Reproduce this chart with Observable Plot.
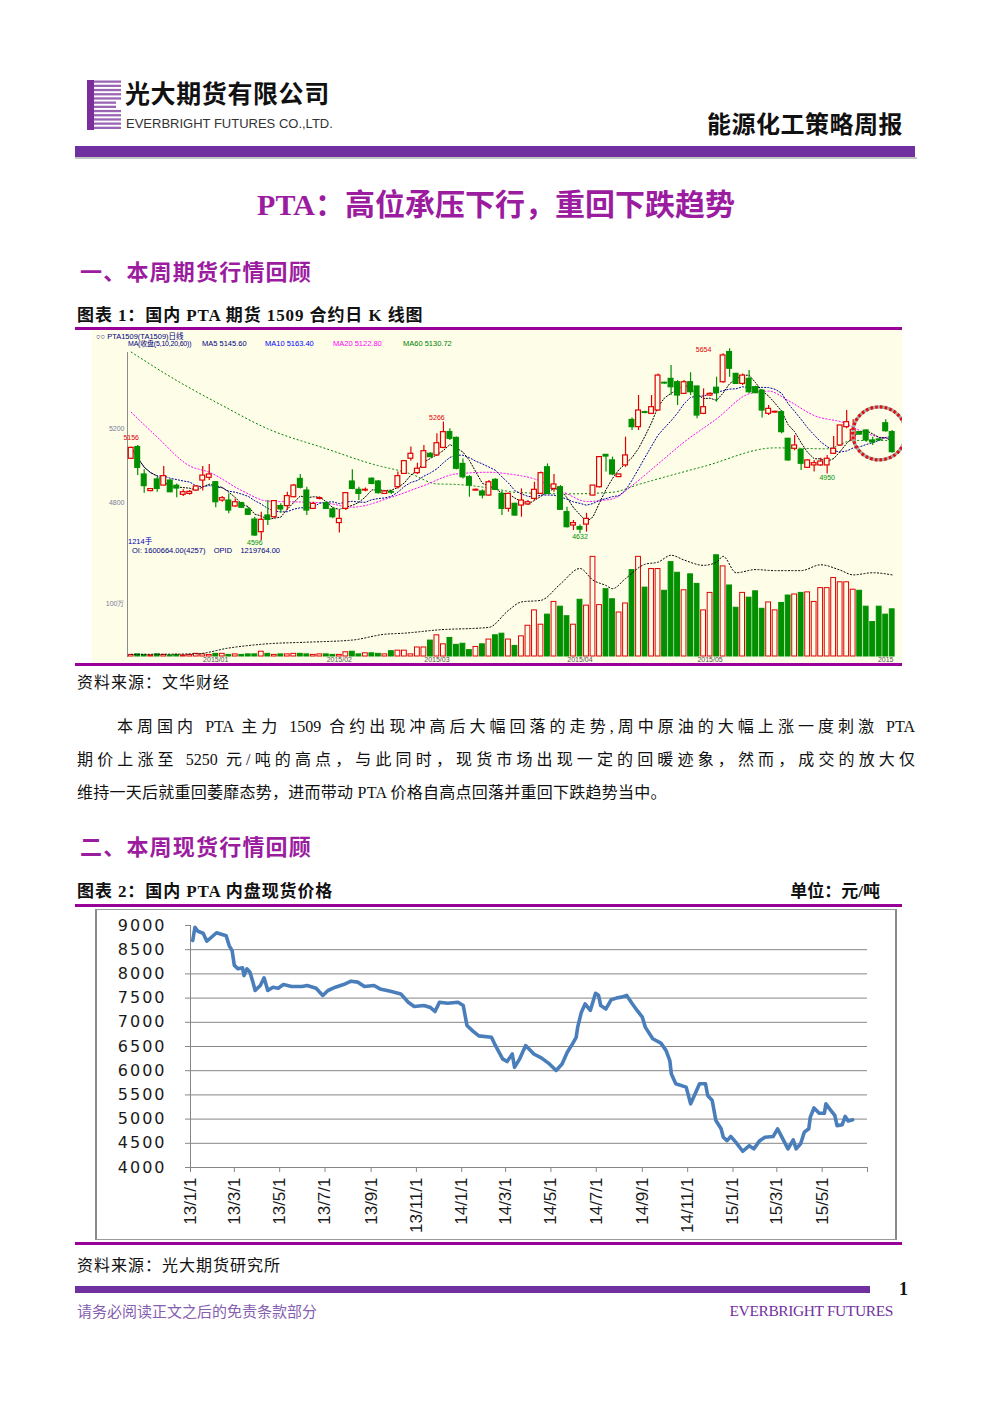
<!DOCTYPE html>
<html><head><meta charset="utf-8">
<script src="https://cdn.jsdelivr.net/npm/d3@7"></script>
<script src="https://cdn.jsdelivr.net/npm/@observablehq/plot@0.6"></script>
<style>
html,body{margin:0;padding:0;background:#fff;}
#page{position:relative;width:992px;height:1403px;overflow:hidden;background:#fff;font-family:"Noto Sans CJK SC",sans-serif;color:#111;}
.t{position:absolute;white-space:nowrap;line-height:1;}
.bar{position:absolute;}
.cj{font-family:"Liberation Serif","Noto Sans CJK SC",serif;}
.tiny{position:absolute;white-space:nowrap;line-height:1;font-family:"Liberation Sans","Noto Sans CJK SC",sans-serif;font-size:7.5px;}
#kwrap{position:absolute;left:92px;top:330px;width:810px;height:333px;background:#fdfde8;overflow:hidden;}
#kprice{position:absolute;left:0;top:0;}
#kvol{position:absolute;left:0;top:218px;}
#spotbox{position:absolute;left:95px;top:909px;width:798px;height:329px;border:1px solid #9a9a9a;border-left:2px solid #8a8a8a;border-right:2px solid #8a8a8a;}
#spot{position:absolute;left:96px;top:911px;}
.spot g[aria-label="y-axis tick label"]{letter-spacing:2px;}
.para{position:absolute;white-space:nowrap;font-size:16px;line-height:1;font-family:"Liberation Serif","Noto Sans CJK SC",serif;}
.just{text-align:justify;text-align-last:justify;white-space:normal;}
</style></head>
<body><div id="page">

<svg id="logo" style="position:absolute;left:84px;top:78px" width="40" height="56"></svg>
<div class="t" style="left:125px;top:80px;font-size:25px;font-weight:700;letter-spacing:0.6px;">光大期货有限公司</div>
<div class="t" style="left:126px;top:117px;font-size:13px;font-family:'Liberation Sans',sans-serif;color:#333;">EVERBRIGHT FUTURES CO.,LTD.</div>
<div class="t" style="right:89px;top:111px;font-size:24px;font-weight:700;letter-spacing:0.5px;">能源化工策略周报</div>
<div class="bar" style="left:75px;top:146px;width:840px;height:11px;background:#7030a0;"></div>
<div class="bar" style="left:75px;top:157px;width:842px;height:2px;background:#c4c4c4;"></div>

<div class="t cj" style="left:0;width:992px;text-align:center;top:190px;font-size:30px;font-weight:700;color:#9b1c9f;">PTA：高位承压下行，重回下跌趋势</div>
<div class="t" style="left:80px;top:259px;font-size:22px;font-weight:700;color:#9b1c9f;letter-spacing:1.2px;">一、本周期货行情回顾</div>
<div class="t cj" style="left:77px;top:307px;font-size:17px;font-weight:700;letter-spacing:0.9px;">图表 1：国内 PTA 期货 1509 合约日 K 线图</div>
<div class="bar" style="left:75px;top:327px;width:827px;height:3px;background:#990099;"></div>

<div id="kwrap">
  <div id="kprice"></div>
  <div id="kvol"></div>
  <div class="tiny" style="left:4px;top:3px;color:#00007f;">○○ PTA1509(TA1509)日线</div>
  <div class="tiny" style="left:36px;top:10px;color:#00007f;font-size:7px;letter-spacing:-0.2px;">MA(收盘(5,10,20,60))</div>
  <div class="tiny" style="left:110px;top:10px;color:#00007f;">MA5 5145.60</div>
  <div class="tiny" style="left:173px;top:10px;color:#0000ff;">MA10 5163.40</div>
  <div class="tiny" style="left:241px;top:10px;color:#ff00ff;">MA20 5122.80</div>
  <div class="tiny" style="left:311px;top:10px;color:#008000;">MA60 5130.72</div>
  <div class="tiny" style="left:36px;top:208px;color:#0000c0;">1214手</div>
  <div class="tiny" style="left:40px;top:217px;color:#00007f;">OI: 1600664.00(4257)&nbsp;&nbsp;&nbsp;&nbsp;OPID&nbsp;&nbsp;&nbsp;&nbsp;1219764.00</div>
</div>
<div class="bar" style="left:75px;top:663px;width:827px;height:3px;background:#990099;"></div>
<div class="t" style="left:77px;top:673px;font-size:16px;letter-spacing:1px;">资料来源：文华财经</div>

<div class="para just" style="left:117px;top:719px;width:798px;">本周国内 PTA 主力 1509 合约出现冲高后大幅回落的走势,周中原油的大幅上涨一度刺激 PTA</div>
<div class="para just" style="left:77px;top:752px;width:838px;">期价上涨至 5250 元/吨的高点，与此同时，现货市场出现一定的回暖迹象，然而，成交的放大仅</div>
<div class="para" style="left:77px;top:785px;letter-spacing:0.25px;">维持一天后就重回萎靡态势，进而带动 PTA 价格自高点回落并重回下跌趋势当中。</div>

<div class="t" style="left:80px;top:834px;font-size:22px;font-weight:700;color:#9b1c9f;letter-spacing:1.2px;">二、本周现货行情回顾</div>
<div class="t cj" style="left:77px;top:883px;font-size:17px;font-weight:700;letter-spacing:0.9px;">图表 2：国内 PTA 内盘现货价格</div>
<div class="t cj" style="right:112px;top:883px;font-size:17px;font-weight:700;">单位：元/吨</div>
<div class="bar" style="left:75px;top:904px;width:827px;height:3px;background:#990099;"></div>
<div id="spotbox"></div>
<div id="spot"></div>
<div class="bar" style="left:75px;top:1242px;width:827px;height:3px;background:#990099;"></div>
<div class="t" style="left:77px;top:1256px;font-size:16px;letter-spacing:1px;">资料来源：光大期货研究所</div>

<div class="bar" style="left:75px;top:1286px;width:795px;height:7px;background:#7030a0;"></div>
<div class="t" style="left:899px;top:1280px;font-size:18px;font-weight:700;font-family:'Liberation Serif',serif;">1</div>
<div class="t" style="left:77px;top:1303px;font-size:15px;color:#8660b0;">请务必阅读正文之后的免责条款部分</div>
<div class="t" style="right:99px;top:1303px;font-size:15.5px;color:#7030a0;font-family:'Liberation Serif',serif;letter-spacing:-0.4px;">EVERBRIGHT FUTURES</div>

</div>
<script>
// ===================== Chart 1: PTA1509 daily candles =====================
const candleOpen = [
5038,5101,4953,4863,4926,4893,4920,4892,4843,4848,
4866,4920,4935,4911,4812,4812,4780,4798,4764,4709,
4641,4731,4722,4782,4782,4830,4929,4866,4767,4821,
4798,4764,4690,4767,4915,4870,4866,4930,4915,4848,
4858,4884,4956,5038,4960,4989,5065,5056,5097,5182,
5151,5010,4938,4866,4861,4839,4924,4848,4767,4794,
4785,4791,4821,4848,4992,4875,4884,4749,4677,4668,
4682,4839,4884,5059,5029,4939,5002,5248,5209,5290,
5281,5299,5449,5470,5452,5389,5452,5429,5281,5380,
5422,5452,5615,5497,5443,5470,5425,5407,5281,5288,
5290,5146,5092,5086,4989,5002,5002,5002,5065,5110,
5209,5137,5182,5191,5137,5142,5230,5182];
const candleClose = [
5097,4989,4890,4874,4875,4944,4857,4877,4857,4859,
4888,4947,4953,4803,4825,4758,4803,4773,4735,4623,
4708,4708,4809,4764,4836,4893,4881,4758,4794,4825,
4767,4722,4713,4852,4875,4848,4870,4902,4852,4861,
4855,4944,5025,5065,4984,5079,5047,5122,5182,5146,
4984,4938,4893,4870,4839,4911,4870,4767,4848,4731,
4812,4803,4870,4960,4848,4899,4762,4668,4690,4655,
4713,4893,5047,5050,4953,4953,5056,5209,5299,5286,
5317,5488,5445,5425,5380,5452,5398,5272,5317,5389,
5393,5597,5525,5443,5488,5398,5393,5299,5308,5292,
5182,5029,5110,5011,5029,5014,5023,5038,5092,5218,
5236,5194,5169,5137,5126,5139,5187,5074];
const candleHigh = [
5100,5110,4978,4877,4938,4996,4924,4902,4870,4866,
4893,4996,5007,4915,4834,4848,4821,4803,4776,4722,
4749,4812,4812,4794,4857,4899,4953,4884,4803,4830,
4803,4776,4758,4854,4978,4884,4880,4934,4920,4866,
4866,4966,5029,5101,5014,5110,5070,5173,5236,5200,
5155,5037,4947,4875,4870,4920,4930,4862,4852,4798,
4875,4812,4911,4966,5010,4953,4893,4776,4704,4680,
4743,4893,5050,5061,5047,4956,5155,5259,5380,5295,
5380,5497,5452,5543,5461,5461,5503,5429,5416,5395,
5479,5606,5633,5501,5497,5515,5430,5410,5326,5295,
5299,5146,5164,5092,5032,5029,5041,5056,5158,5218,
5299,5249,5185,5194,5155,5146,5249,5191];
const candleLow = [
5035,4948,4852,4859,4857,4893,4854,4827,4834,4840,
4863,4863,4920,4773,4803,4740,4776,4769,4731,4618,
4596,4677,4713,4743,4758,4827,4875,4731,4763,4815,
4763,4713,4636,4758,4870,4812,4860,4898,4848,4845,
4845,4875,4953,5025,4953,4989,5043,5050,5092,5137,
4978,4929,4830,4862,4821,4836,4866,4731,4749,4727,
4722,4785,4812,4845,4845,4857,4758,4664,4650,4632,
4641,4836,4880,4966,4947,4935,4992,5191,5191,5282,
5277,5295,5441,5380,5326,5386,5380,5254,5277,5375,
5344,5447,5479,5440,5434,5389,5390,5259,5272,5286,
5173,5025,5082,4974,4985,4966,4996,4956,5061,5104,
5200,5128,5165,5128,5110,5136,5182,5068];
// volume (万手)
const volume = [
3,4,3,2,4,3,2,3,2,3,
5,4,3,5,5,3,4,3,4,4,
9,5,3,4,4,5,5,4,3,4,
4,3,3,8,9,4,6,6,5,4,
10,11,11,4,17,17,30,40,23,35,
22,24,12,18,23,32,40,43,32,20,
38,58,87,60,79,103,94,76,60,107,
96,188,97,127,108,83,100,163,188,130,
165,165,124,178,158,125,155,137,87,120,
191,170,134,92,120,111,123,90,102,87,
101,115,117,120,121,103,129,129,148,140,
140,126,124,94,65,94,79,89];
// open interest samples (trading-day number, value in volume units)
const oiDay = [0,10,15,21,27,34,39,42,47,55,58,60,63,66,69,71,73,74,76,79,81,83,85,88,90,91,93,96,99,103,106,109,111,114,117];
const oiValue = [4,5,16,24,27,31,42,44,50,55,87,103,106,137,166,144,134,128,147,174,178,191,182,172,178,189,158,164,162,162,173,163,154,158,154];
// MA20 / MA60 (they carry history from before the window)
const ma20Day = [0,4,9,12,17,21,27,30,34,40,45,50,55,58,62,67,70,74,77,81,85,90,95,98,101,105,110,112,115,117];
const ma20Value = [5290,5155,4999,4965,4866,4809,4803,4798,4776,4830,4893,4956,4965,4956,4929,4848,4807,4821,4893,5010,5128,5254,5389,5404,5353,5272,5227,5191,5155,5146];
const ma60Day = [0,7,14,21,30,37,43,47,50,56,59,67,74,78,88,99,107,111,117];
const ma60Value = [5615,5461,5326,5200,5092,5010,4956,4902,4899,4875,4857,4848,4857,4899,4996,5097,5092,5137,5137];
// price labels on chart
const markDay = [0,47,19,69,88,107];
const markPrice = [5150,5260,4582,4614,5627,4938];
const markText = ["5156","5266","4596","4632","5654","4950"];
const markUp = [true,true,false,false,true,false];
const priceTicks = [4800,5200];
const volTicks = [100];
const monthDay = [13,32,47,69,89,116];
const monthLabel = ["2015/01","2015/02","2015/03","2015/04","2015/05","2015"];
const circleDay = [115];
const circlePrice = [5175];

// ===================== Chart 2: PTA spot price =====================
const spotDates = ["2013-01-04","2013-01-07","2013-01-11","2013-01-18","2013-01-23","2013-02-05","2013-02-18","2013-02-22","2013-02-26","2013-03-01",
"2013-03-06","2013-03-12","2013-03-14","2013-03-18","2013-03-22","2013-03-26","2013-03-29","2013-04-05","2013-04-10","2013-04-15",
"2013-04-22","2013-04-29","2013-05-06","2013-05-17","2013-05-31","2013-06-07","2013-06-19","2013-06-28","2013-07-05","2013-07-15",
"2013-07-26","2013-08-05","2013-08-14","2013-08-23","2013-09-05","2013-09-13","2013-09-27","2013-10-11","2013-10-21","2013-10-29",
"2013-11-11","2013-11-20","2013-11-26","2013-12-02","2013-12-13","2013-12-27","2014-01-03","2014-01-08","2014-01-16","2014-01-24",
"2014-02-10","2014-02-14","2014-02-25","2014-03-03","2014-03-10","2014-03-13","2014-03-20","2014-03-28","2014-04-08","2014-04-18",
"2014-04-29","2014-05-08","2014-05-16","2014-05-23","2014-05-30","2014-06-04","2014-06-06","2014-06-11","2014-06-16","2014-06-23",
"2014-06-30","2014-07-04","2014-07-07","2014-07-14","2014-07-21","2014-07-28","2014-08-04","2014-08-11","2014-08-18","2014-08-25",
"2014-09-01","2014-09-05","2014-09-15","2014-09-26","2014-10-03","2014-10-08","2014-10-10","2014-10-16","2014-10-30","2014-11-05",
"2014-11-12","2014-11-17","2014-11-25","2014-11-28","2014-12-04","2014-12-09","2014-12-16","2014-12-19","2014-12-24","2014-12-29",
"2015-01-05","2015-01-14","2015-01-23","2015-01-29","2015-02-06","2015-02-13","2015-02-24","2015-03-02","2015-03-09","2015-03-16",
"2015-03-23","2015-03-27","2015-04-02","2015-04-07","2015-04-13","2015-04-15","2015-04-20","2015-04-27","2015-05-04","2015-05-06",
"2015-05-11","2015-05-18","2015-05-21","2015-05-28","2015-06-01","2015-06-05","2015-06-11"];
const spotPrices = [8690,8965,8880,8840,8675,8850,8790,8585,8480,8175,
8105,8125,7965,8105,8035,7830,7657,7760,7920,7657,
7725,7705,7780,7740,7740,7760,7705,7555,7657,7725,
7780,7850,7830,7740,7760,7690,7640,7587,7415,7325,
7347,7305,7223,7415,7395,7415,7347,6935,6817,6720,
6690,6560,6245,6190,6345,6070,6245,6520,6345,6265,
6140,6005,6140,6380,6555,6690,6900,7210,7380,7245,
7600,7560,7347,7277,7465,7500,7520,7555,7395,7245,
7105,6900,6660,6570,6415,6210,5935,5730,5660,5315,
5555,5730,5730,5488,5385,4970,4800,4625,4555,4640,
4520,4335,4450,4385,4555,4625,4640,4800,4590,4385,
4570,4385,4490,4730,4800,5040,5230,5120,5120,5315,
5210,5075,4865,4885,5055,4960,4985];
const spotYTicks = [4000,4500,5000,5500,6000,6500,7000,7500,8000,8500,9000];
const spotGridTicks = [4500,5000,5500,6000,6500,7000,7500,8000,8500];
const spotXTicks = ["2013-01-01","2013-03-01","2013-05-01","2013-07-01","2013-09-01","2013-11-01","2014-01-01","2014-03-01","2014-05-01","2014-07-01","2014-09-01","2014-11-01","2015-01-01","2015-03-01","2015-05-01","2015-07-01"];
const spotXLabels = ["13/1/1","13/3/1","13/5/1","13/7/1","13/9/1","13/11/1","14/1/1","14/3/1","14/5/1","14/7/1","14/9/1","14/11/1","15/1/1","15/3/1","15/5/1",""];
const spotDomain = ["2013-01-01","2015-07-01"];

// ---------- logo (decoration) ----------
(function(){
  const s = d3.select("#logo");
  s.append("rect").attr("x",3).attr("y",2).attr("width",7).attr("height",50).attr("fill","#7b2d9b");
  for (let k = 0; k < 12; k++) {
    const mid = k >= 5 && k <= 6;
    s.append("rect").attr("x",10).attr("y",2.5 + k*4.2).attr("width", mid ? 22 : 27).attr("height",2.3)
      .attr("fill", "#8a4aa8").attr("opacity", 0.85);
  }
})();

// ---------- Chart 1 ----------
const RED = "#e00000", GREEN = "#009000", BG = "#fdfde8";
const candles = candleOpen.map((o, i) => {
  const c = candleClose[i];
  let lo = Math.min(o, c), hi = Math.max(o, c);
  if (hi - lo < 4) { const m = (hi + lo) / 2; lo = m - 2; hi = m + 2; }
  return {i, open: o, close: c, high: candleHigh[i], low: candleLow[i], up: c >= o, b1: lo, b2: hi, vol: volume[i]};
});
function movingAvg(vals, k) { return vals.map((_, i) => ({i, v: d3.mean(vals.slice(Math.max(0, i - k + 1), i + 1))})); }
const ma5 = movingAvg(candleClose, 5);
const ma10 = movingAvg(candleClose, 10);
const ma20 = ma20Day.map((d, j) => ({i: d, v: ma20Value[j]}));
const ma60 = ma60Day.map((d, j) => ({i: d, v: ma60Value[j]}));
const marks = markDay.map((d, j) => ({i: d, p: markPrice[j], t: markText[j], c: markUp[j] ? RED : GREEN}));
const circ = circleDay.map((d, j) => ({i: d, p: circlePrice[j]}));
const oi = oiDay.map((d, j) => ({i: d, v: oiValue[j]}));
const months = monthDay.map((d, j) => ({i: d, label: monthLabel[j]}));

const xOpt = {domain: [0, 117], range: [38.7, 799.7], axis: null};
const priceChart = Plot.plot({
  width: 810, height: 218,
  marginLeft: 35, marginRight: 10, marginTop: 22, marginBottom: 0,
  style: {background: "transparent", overflow: "visible"},
  x: xOpt,
  y: {domain: [4552.6, 5731.8], range: [218, 0]},
  color: {type: "identity"},
  marks: [
    Plot.frame({anchor: "left", stroke: "#8c8c8c"}),
    Plot.axisY(priceTicks, {anchor: "left", label: null, tickSize: 0, tickPadding: 3, fontSize: 7, fill: "#7a7a9a", tickFormat: d => String(d), fontFamily: "Liberation Sans"}),
    Plot.line(ma60, {x: "i", y: "v", stroke: "#008000", strokeWidth: 1, strokeDasharray: "1.2,2.8", curve: "monotone-x"}),
    Plot.line(ma20, {x: "i", y: "v", stroke: "#ff00ff", strokeWidth: 1, strokeDasharray: "1.2,2.2", curve: "monotone-x"}),
    Plot.line(ma10, {x: "i", y: "v", stroke: "#0000a0", strokeWidth: 1, strokeDasharray: "1.2,2"}),
    Plot.line(ma5, {x: "i", y: "v", stroke: "#000", strokeWidth: 1, strokeDasharray: "1.2,1.8"}),
    Plot.ruleX(candles, {x: "i", y1: "low", y2: "high", stroke: d => d.up ? RED : GREEN, strokeWidth: 1.2}),
    Plot.rect(candles, {x1: d => d.i - 0.37, x2: d => d.i + 0.37, y1: "b1", y2: "b2",
      fill: d => d.up ? BG : GREEN, stroke: d => d.up ? RED : GREEN, strokeWidth: 1.2}),
    Plot.text(marks, {x: "i", y: "p", text: "t", fill: "c", fontSize: 7, fontFamily: "Liberation Sans"}),
    Plot.dot(circ, {x: "i", y: "p", r: 26.5, stroke: "#a8a8a8", strokeWidth: 3.2, fill: "none"}),
    Plot.dot(circ, {x: "i", y: "p", r: 26.5, stroke: "#e01010", strokeWidth: 3.2, strokeDasharray: "2.6,2.2", fill: "none"})
  ]
});
document.getElementById("kprice").append(priceChart);

const volChart = Plot.plot({
  width: 810, height: 115,
  marginLeft: 35, marginRight: 10, marginTop: 0, marginBottom: 7,
  style: {background: "transparent", overflow: "visible"},
  x: xOpt,
  y: {domain: [0, 200], range: [108, 2]},
  color: {type: "identity"},
  marks: [
    Plot.frame({anchor: "left", stroke: "#8c8c8c"}),
    Plot.axisY(volTicks, {anchor: "left", label: null, tickSize: 0, tickPadding: 3, fontSize: 7, fill: "#7a7a9a", tickFormat: d => d + "万", fontFamily: "Liberation Sans"}),
    Plot.rect(candles, {x1: d => d.i - 0.37, x2: d => d.i + 0.37, y1: 0, y2: "vol",
      fill: d => d.up ? BG : GREEN, stroke: d => d.up ? RED : GREEN, strokeWidth: 1}),
    Plot.line(oi, {x: "i", y: "v", stroke: "#000", strokeWidth: 1, strokeDasharray: "1.2,2.2", curve: "monotone-x"}),
    Plot.text(months, {x: "i", text: "label", frameAnchor: "bottom", lineAnchor: "top", dy: 1, fontSize: 7, fill: "#555", fontFamily: "Liberation Sans"})
  ]
});
document.getElementById("kvol").append(volChart);

// ---------- Chart 2 ----------
const spot = spotDates.map((d, j) => ({date: new Date(d), price: spotPrices[j]}));
const tickDates = spotXTicks.map(d => new Date(d));
const tickLabelMap = new Map(tickDates.map((d, j) => [+d, spotXLabels[j]]));
const spotChart = Plot.plot({
  className: "spot",
  width: 798, height: 328,
  marginLeft: 94, marginRight: 27, marginTop: 14, marginBottom: 72,
  style: {background: "transparent", overflow: "visible"},
  x: {type: "utc", domain: spotDomain.map(d => new Date(d)), label: null},
  y: {domain: [4000, 9000], label: null},
  marks: [
    Plot.gridY(spotGridTicks, {stroke: "#868686", strokeOpacity: 1, strokeWidth: 1}),
    Plot.frame({anchor: "left", stroke: "#868686"}),
    Plot.frame({anchor: "bottom", stroke: "#868686"}),
    Plot.axisY(spotYTicks, {anchor: "left", label: null, tickSize: 5, tickPadding: 19, stroke: "#868686", fill: "#1a1a1a",
      fontSize: 16, fontFamily: "DejaVu Sans", tickFormat: d => String(d)}),
    Plot.axisX(tickDates, {anchor: "bottom", label: null, tickSize: 5, tickPadding: 5, tickRotate: -90, stroke: "#868686", fill: "#1a1a1a",
      fontSize: 17, fontFamily: "Liberation Sans Narrow, Arial Narrow, Liberation Sans, sans-serif", tickFormat: d => tickLabelMap.get(+d)}),
    Plot.line(spot, {x: "date", y: "price", stroke: "#4a7ebb", strokeWidth: 3.6, strokeLinejoin: "round", strokeLinecap: "round"})
  ]
});
document.getElementById("spot").append(spotChart);
</script>
</body></html>
